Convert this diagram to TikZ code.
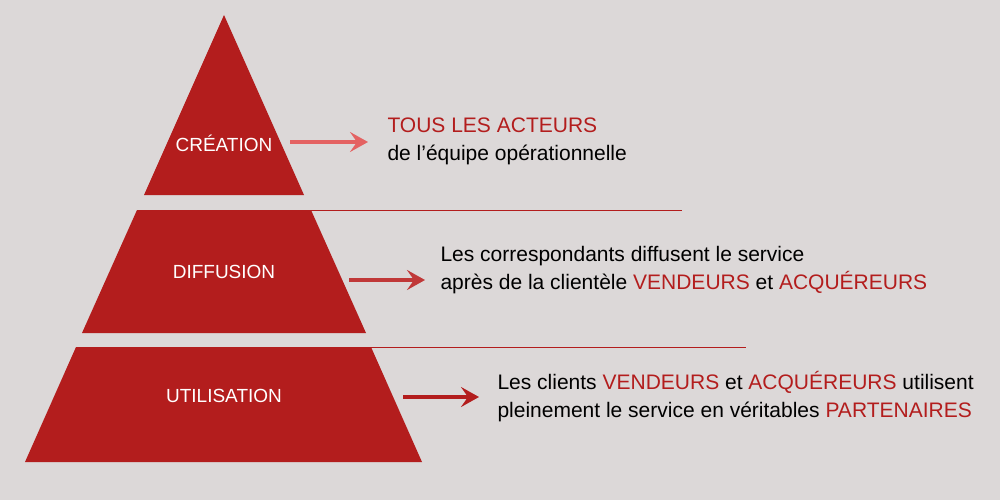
\documentclass[tikz,border=0pt]{standalone}
\usetikzlibrary{arrows.meta}
\usepackage{fontspec}
\setmainfont{Liberation Sans}
\definecolor{bg}{HTML}{DCD8D8}
\definecolor{pr}{HTML}{B31D1D}
\definecolor{a1}{HTML}{E46262}
\definecolor{a2}{HTML}{C03838}
\begin{document}
\begin{tikzpicture}[x=1pt,y=-1pt,
 lab/.style={text=white,font=\fontsize{19}{22}\selectfont},
 txt/.style={anchor=west,align=left,font=\fontsize{21}{28}\selectfont},
 arr/.style={line width=3.5pt,-{Stealth[length=18pt,width=20pt,inset=7pt]}},
 sep/.style={pr,line width=0.6pt}]
\fill[bg] (0,0) rectangle (1000,500);
\useasboundingbox (0,0) rectangle (1000,500);
\fill[pr] (224,15) -- (304,195) -- (144,195) -- cycle;
\fill[pr] (137,210) -- (311,210) -- (366,333) -- (82,333) -- cycle;
\fill[pr] (76,347) -- (371,347) -- (422,462) -- (25,462) -- cycle;
\node[lab] (c) at (224,143) {CRÉATION};
\node[lab] (d) at (224,272) {DIFFUSION};
\node[lab] (u) at (224,396) {UTILISATION};
\coordinate (l1a) at (311,210); \coordinate (l1b) at (682,210);
\coordinate (l2a) at (371,347); \coordinate (l2b) at (746,347);
\draw[sep] (l1a) -- (l1b);
\draw[sep] (l2a) -- (l2b);
\node[txt] (t1) at (384,141) {\textcolor{pr}{TOUS LES ACTEURS}\\de l’équipe opérationnelle};
\node[txt] (t2) at (437,270) {Les correspondants diffusent le service\\après de la clientèle \textcolor{pr}{VENDEURS} et \textcolor{pr}{ACQUÉREURS}};
\node[txt] (t3) at (494,397) {Les clients \textcolor{pr}{VENDEURS} et \textcolor{pr}{ACQUÉREURS} utilisent\\pleinement le service en véritables \textcolor{pr}{PARTENAIRES}};
\coordinate (a1s) at (290,142); \coordinate (a1e) at (368,142);
\coordinate (a2s) at (349,280); \coordinate (a2e) at (425,280);
\coordinate (a3s) at (403,397); \coordinate (a3e) at (479,397);
\draw[arr,a1] (a1s) -- (a1e);
\draw[arr,a2] (a2s) -- (a2e);
\draw[arr,pr] (a3s) -- (a3e);
\end{tikzpicture}
\end{document}
